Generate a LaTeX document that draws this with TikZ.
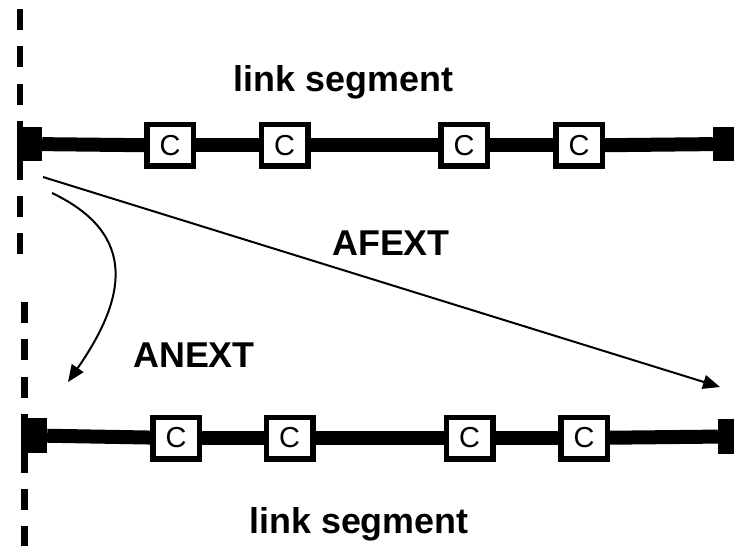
\documentclass[tikz,border=0pt]{standalone}
\usepackage{fontspec}
\setmainfont{Liberation Sans}
\usetikzlibrary{arrows.meta}
\begin{document}
\begin{tikzpicture}[x=1bp,y=-1bp,
  cbox/.style={draw=black,fill=white,line width=5.5bp,minimum width=46.5bp,minimum height=41.5bp,inner sep=0pt,
    font=\fontsize{29}{31}\selectfont},
  endblk/.style={fill=black,draw=none,inner sep=0pt,minimum height=34bp},
  wire/.style={line width=14bp},
  bound/.style={line width=6.5bp,dash pattern=on 21bp off 16.4bp},
  lbl/.style={anchor=base,font=\fontsize{36}{40}\selectfont\bfseries},
  arr/.style={line width=2bp,-{Triangle[length=17bp,width=14bp]}}]
\useasboundingbox (0,0) rectangle (734,546);
% boundaries
\draw[bound] (20,9) -- (20,255);
\draw[bound] (24.5,302) -- (24.5,546);
% top link segment
\node[endblk,minimum width=25bp] (tl) at (29.5,144) {};
\node[endblk,minimum width=21bp] (tr) at (723.5,144) {};
\node[cbox] (t1) at (170,145.5) {C};
\node[cbox] (t2) at (284.5,145.5) {C};
\node[cbox] (t3) at (464,145.5) {C};
\node[cbox] (t4) at (579,145.5) {C};
\draw[wire] (tl) -- (t1);
\draw[wire] (t1) -- (t2);
\draw[wire] (t2) -- (t3);
\draw[wire] (t3) -- (t4);
\draw[wire] (t4) -- (tr);
% bottom link segment
\node[endblk,minimum width=26bp,minimum height=35bp] (bl) at (34,435.5) {};
\node[endblk,minimum width=16bp,minimum height=35bp] (br) at (726,436.5) {};
\node[cbox] (b1) at (176,438) {C};
\node[cbox] (b2) at (289.5,438) {C};
\node[cbox] (b3) at (469.5,438) {C};
\node[cbox] (b4) at (584,438) {C};
\draw[wire] (bl) -- (b1);
\draw[wire] (b1) -- (b2);
\draw[wire] (b2) -- (b3);
\draw[wire] (b3) -- (b4);
\draw[wire] (b4) -- (br);
% labels
\node[lbl] (ltop) at (343.5,92) {link segment};
\node[lbl] (lbot) at (359,533) {link segment};
\node[lbl] (afext) at (391,256) {AFEXT};
\node[lbl] (anext) at (194,367) {ANEXT};
% arrows
\coordinate (fs) at (43,177);
\coordinate (fe) at (720,387);
\coordinate (ns) at (52,193);
\coordinate (ne) at (68,382);
\draw[arr] (fs) -- (fe);
\draw[arr] (ns) .. controls (140,235) and (125,300) .. (ne);
\end{tikzpicture}
\end{document}
